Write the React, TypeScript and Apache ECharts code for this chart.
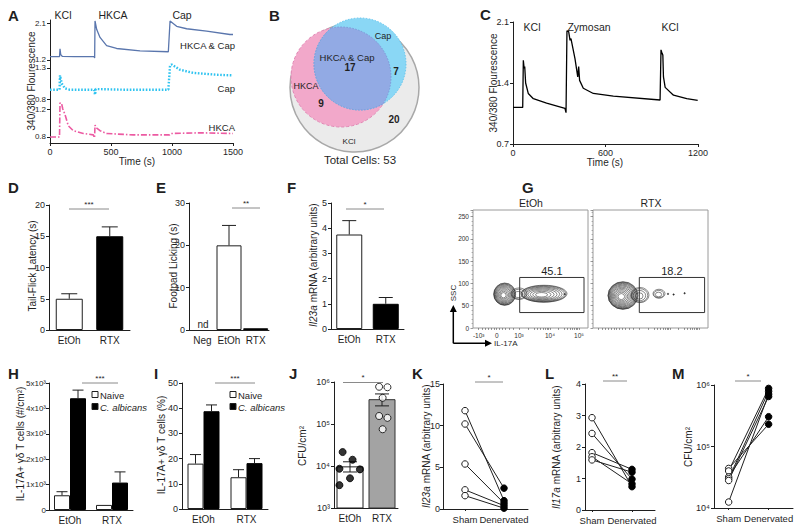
import React, { useEffect, useRef } from 'react';
import * as echarts from 'echarts';

// ---------------- DATA ----------------
// Panel A: calcium traces [time (s), 340/380 ratio]
const aHkcaCap = [[0,1.28],[78,1.28],[82,1.47],[88,1.33],[100,1.29],[200,1.28],[362,1.28],[366,1.25],[369,2.15],[383,1.94],[410,1.75],[464,1.55],[546,1.48],[738,1.42],[970,1.40],[984,2.15],[1038,2.02],[1120,1.96],[1284,1.90],[1475,1.82],[1500,1.82]];
const aCap = [[0,0.95],[78,0.95],[82,1.18],[96,1.05],[123,0.97],[160,0.95],[362,0.95],[369,0.87],[376,0.96],[600,0.95],[970,0.95],[984,1.34],[997,1.355],[1066,1.27],[1175,1.22],[1366,1.19],[1500,1.18]];
const aHkca = [[0,0.80],[78,0.80],[82,1.29],[96,1.27],[105,1.20],[123,1.12],[150,0.96],[191,0.89],[273,0.85],[355,0.83],[365,0.79],[369,0.97],[380,0.93],[410,0.89],[464,0.85],[683,0.83],[980,0.83],[992,0.85],[1230,0.86],[1500,0.85]];
const aTicksTop = [1.2, 2.1];
const aTicksMid = [0.8, 1.3];
const aTicksBot = [0.8, 1.2];
// Panel B: Venn counts
const vennLabels = ['HKCA & Cap', 'Cap', 'HKCA', 'KCl'];
const vennCounts = [17, 7, 9, 20];
const vennTotal = 53;
// Panel C
const cTrace = [[0,1.12],[63,1.12],[67,1.66],[72,1.57],[76,1.59],[82,1.40],[99,1.28],[132,1.22],[218,1.17],[337,1.11],[344,1.06],[350,2.0],[361,1.99],[370,1.89],[376,1.91],[402,1.68],[420,1.47],[426,1.59],[432,1.43],[456,1.34],[521,1.28],[651,1.25],[954,1.205],[960,1.78],[967,1.74],[972,1.72],[976,1.47],[987,1.35],[1041,1.26],[1127,1.22],[1198,1.20]];
const cTicks = [0.7, 1.4, 2.1];
// Panel D
const dCats = ['EtOh', 'RTX'];
const dMeans = [5.0, 15.0];
const dUpper = [5.8, 16.5];
// Panel E
const eCats = ['Neg', 'EtOh', 'RTX'];
const eMeans = [null, 20.0, 0.4];
const eUpper = [null, 24.7, null];
// Panel F
const fCats = ['EtOh', 'RTX'];
const fMeans = [3.75, 1.0];
const fUpper = [4.3, 1.25];
// Panel G: flow contours [x display, SSC, rx, ry, rings]
const gEtOhClusters = [[31.7,76,11,25,11],[46,77,8,13,3],[71,77,23,19,9],[91.7,76,0.7,1.6,1]];
const gRtxClusters = [[30,73,15,31,13],[47,74,9,17,4],[66,77,6,10,3],[75,76.6,0.7,1.6,1],[80.6,75.2,0.7,1.6,1],[91.6,78,0.7,1.6,1]];
const gGateEtOh = [46.7, 34.7, 111, 113.5];
const gGateRtx = [46.3, 34.7, 111.6, 113.5];
const gPercents = ['45.1', '18.2'];
const gXTickLabels = ['-10³', '0', '10³', '10⁴', '10⁵'];
const gXTickVals = [5.7, 23.7, 46, 77, 106];
// Panel H
const hCats = ['EtOh', 'RTX'];
const hNaive = [580, 200];
const hNaiveUpper = [720, null];
const hCalb = [4400, 1080];
const hCalbUpper = [4720, 1500];
// Panel I
const iCats = ['EtOh', 'RTX'];
const iNaive = [18.0, 12.6];
const iNaiveUpper = [21.6, 15.6];
const iCalb = [38.8, 18.2];
const iCalbUpper = [41.3, 20.0];
// Panel J
const jCats = ['EtOh', 'RTX'];
const jMeans = [9800, 390000];
const jLower = [7200, 270000];
const jUpper = [12600, 520000];
const jEtOhPts = [21500, 14100, 8600, 8300, 5100, 3500];
const jEtOhJit = [0.27, 0.58, 0.17, 0.81, 0.5, 0.17];
const jRtxPts = [770000, 750000, 420000, 155000, 140000, 75000];
const jRtxJit = [1.41, 1.67, 1.52, 1.41, 1.67, 1.52];
// Panel K
const kSham = [11.8, 10.2, 5.4, 2.3, 1.6];
const kDen = [1.0, 2.5, 0.7, 0.4, 0.1];
// Panel L
const lSham = [2.93, 2.43, 1.82, 1.69, 1.59];
const lDen = [0.74, 0.98, 1.29, 0.83, 1.20];
// Panel M
const mSham = [44000, 40000, 32000, 30000, 28000, 12500];
const mDen = [230000, 880000, 305000, 790000, 650000, 710000];
const pairCats = ['Sham', 'Denervated'];

// ---------------- STYLE HELPERS ----------------
const FONT = '"Liberation Sans", Arial, Helvetica, sans-serif';
const INK = '#1f1f1f';
const SIG = '#8a8a8a';

const axLine = { show: true, lineStyle: { color: INK, width: 1 } };
const lab = (extra: any = {}) => ({ color: INK, fontSize: 9, fontFamily: FONT, margin: 4, ...extra });
const plain = (v: number) => String(v);

function T(text: string, x: number, y: number, o: any = {}) {
  return {
    type: 'text', x, y, rotation: o.rot || 0, silent: true, z: 50,
    style: {
      text, fill: o.fill || INK, fontSize: o.size || 10, fontFamily: FONT,
      fontWeight: o.bold ? 'bold' : 'normal', fontStyle: o.italic ? 'italic' : 'normal',
      align: o.align || 'center', verticalAlign: 'middle', rich: o.rich,
    },
  };
}
function L(x1: number, y1: number, x2: number, y2: number, stroke = SIG, w = 1) {
  return { type: 'line', silent: true, z: 50, shape: { x1, y1, x2, y2 }, style: { stroke, lineWidth: w } };
}
function sig(x1: number, x2: number, y: number, stars: string) {
  return [L(x1, y, x2, y), T(stars, (x1 + x2) / 2, y - 5, { size: 8 })];
}
const richItalic = { i: { fontStyle: 'italic', fontSize: 10, fontFamily: FONT, fill: INK } };

function catX(gi: number, cats: string[]) {
  return { type: 'category', gridIndex: gi, data: cats, axisLine: axLine, axisTick: { show: false },
    axisLabel: lab({ fontSize: 10, margin: 5, interval: 0 }), splitLine: { show: false } };
}
function valY(gi: number, min: number, max: number, interval: number, extra: any = {}) {
  return { type: 'value', gridIndex: gi, min, max, interval, axisLine: axLine,
    axisTick: { show: true, length: 3, lineStyle: { color: INK } }, axisLabel: lab({ formatter: plain }), splitLine: { show: false }, ...extra };
}
function customY(gi: number, min: number, max: number, vals: number[], fs = 9) {
  return { type: 'value', gridIndex: gi, min, max, axisLine: axLine,
    axisTick: { show: true, length: 3, customValues: vals, lineStyle: { color: INK } },
    axisLabel: lab({ fontSize: fs, customValues: vals, formatter: (v: number) => v.toFixed(1) }), splitLine: { show: false } };
}
function pairX(gi: number, min: number, max: number) {
  return { type: 'value', gridIndex: gi, min, max, axisLine: axLine,
    axisTick: { show: true, length: 2, customValues: [1, 2], lineStyle: { color: INK } },
    axisLabel: lab({ fontSize: 9.5, margin: 5, customValues: [1, 2], formatter: (v: number) => pairCats[Math.round(v) - 1] }),
    splitLine: { show: false } };
}
function logY(gi: number, min: number, max: number) {
  return { type: 'log', logBase: 10, gridIndex: gi, min, max, axisLine: axLine,
    axisTick: { show: true, length: 3, lineStyle: { color: INK } },
    axisLabel: lab({ formatter: (v: number) => '10' + ['⁰','¹','²','³','⁴','⁵','⁶'][Math.round(Math.log10(v))] }),
    splitLine: { show: false }, minorTick: { show: false } };
}

function errRender(off: number, cap: number, both: boolean) {
  return (params: any, api: any) => {
    const i = api.value(0), lo = api.value(1), hi = api.value(2);
    const a = api.coord([i, lo]);
    const b = api.coord([i, hi]);
    const x = a[0] + off;
    const st = { stroke: INK, lineWidth: 1 };
    const ch: any[] = [
      { type: 'line', shape: { x1: x, y1: a[1], x2: x, y2: b[1] }, style: st },
      { type: 'line', shape: { x1: x - cap / 2, y1: b[1], x2: x + cap / 2, y2: b[1] }, style: st },
    ];
    if (both) ch.push({ type: 'line', shape: { x1: x - cap / 2, y1: a[1], x2: x + cap / 2, y2: a[1] }, style: st });
    return { type: 'group', children: ch };
  };
}
function errSeries(xi: number, lows: any[], highs: any[], off: number, cap: number, both = false) {
  const data: any[] = [];
  highs.forEach((h, i) => { if (h != null) data.push([i, lows[i], h]); });
  return { type: 'custom', xAxisIndex: xi, yAxisIndex: xi, renderItem: errRender(off, cap, both), data, z: 5,
    encode: { x: 0, y: [1, 2] } };
}
function barItems(vals: any[], styles: any[]) {
  return vals.map((v, i) => (v == null ? '-' : { value: v, itemStyle: styles[i] }));
}
const WHITE_BAR = { color: '#ffffff', borderColor: INK, borderWidth: 1 };
const BLACK_BAR = { color: '#000000', borderColor: '#000000', borderWidth: 1 };

function ellipsePath(cx: number, cy: number, rx: number, ry: number) {
  return `M${cx - rx} ${cy} A${rx} ${ry} 0 1 0 ${cx + rx} ${cy} A${rx} ${ry} 0 1 0 ${cx - rx} ${cy} Z`;
}
function contourSeries(xi: number, clusters: number[][]) {
  return {
    type: 'custom', xAxisIndex: xi, yAxisIndex: xi, data: clusters, z: 4, clip: true,
    renderItem: (params: any, api: any) => {
      const c = api.coord([api.value(0), api.value(1)]);
      const s = api.size([api.value(2), api.value(3)]);
      const n = api.value(4);
      const children: any[] = [];
      for (let k = 0; k < n; k++) {
        const t = n === 1 ? 0 : k / n;
        const f = 1 - 0.88 * Math.pow(t, 1.5);
        const shift = -t * s[0] * 0.12;
        children.push({ type: 'path', shape: { pathData: ellipsePath(c[0] + shift, c[1] + t * 1.2, s[0] * f, s[1] * f) },
          style: { fill: n === 1 ? '#333' : 'none', stroke: '#262626', lineWidth: 0.55 } });
      }
      return { type: 'group', children };
    },
  };
}
function gateSeries(xi: number, gate: number[], label: string) {
  return {
    type: 'custom', xAxisIndex: xi, yAxisIndex: xi, data: [gate], z: 6,
    renderItem: (params: any, api: any) => {
      const p1 = api.coord([api.value(0), api.value(3)]);
      const p2 = api.coord([api.value(2), api.value(1)]);
      return { type: 'group', children: [
        { type: 'rect', shape: { x: p1[0], y: p1[1], width: p2[0] - p1[0], height: p2[1] - p1[1] },
          style: { fill: 'none', stroke: '#333', lineWidth: 1 } },
        { type: 'text', x: (p1[0] + p2[0]) / 2, y: p1[1] - 6,
          style: { text: label, fontSize: 11, fontFamily: FONT, fill: INK, align: 'center', verticalAlign: 'middle' } },
      ] };
    },
  };
}
function flowX(gi: number, showLabels: boolean) {
  const minor: number[] = [];
  [2, 3, 4, 5, 6, 7, 8, 9].forEach(k => { minor.push(46 + 31 * Math.log10(k)); minor.push(77 + 29 * Math.log10(k)); });
  [9, 12, 15, 18, 21, 26, 29, 32, 36, 40].forEach(v => minor.push(v));
  return { type: 'value', gridIndex: gi, min: 0, max: 115, axisLine: { show: false },
    axisTick: { show: true, length: 2, customValues: gXTickVals.concat(minor), lineStyle: { color: '#555', width: 0.6 } },
    axisLabel: { show: showLabels, customValues: gXTickVals, fontSize: 6.5, fontFamily: FONT, color: '#333', margin: 4,
      formatter: (v: number) => { let bi = 0; gXTickVals.forEach((t, i) => { if (Math.abs(t - v) < Math.abs(gXTickVals[bi] - v)) bi = i; }); return gXTickLabels[bi]; } },
    splitLine: { show: false } };
}
function flowY(gi: number, showLabels: boolean) {
  return { type: 'value', gridIndex: gi, min: 0, max: 265, interval: 50, axisLine: { show: false },
    axisTick: { show: true, length: 2.5, lineStyle: { color: '#555', width: 0.6 } },
    minorTick: { show: true, splitNumber: 5, length: 1.5, lineStyle: { color: '#777', width: 0.5 } },
    axisLabel: { show: showLabels, fontSize: 6.5, fontFamily: FONT, color: '#333', margin: 4 }, splitLine: { show: false } };
}
function pairSeries(xi: number, sham: number[], den: number[]) {
  return sham.map((s, i) => ({
    type: 'line', xAxisIndex: xi, yAxisIndex: xi, symbolSize: 6.5, z: 5, clip: false,
    lineStyle: { color: INK, width: 1 },
    data: [
      { value: [1, s], symbol: 'circle', itemStyle: { color: '#ffffff', borderColor: INK, borderWidth: 1 } },
      { value: [2, den[i]], symbol: 'circle', itemStyle: { color: '#000000', borderColor: '#000000', borderWidth: 1 } },
    ],
  }));
}

function lensPath(c1: any, c2: any) {
  const dx = c2.cx - c1.cx, dy = c2.cy - c1.cy;
  const d = Math.hypot(dx, dy);
  const a = (c1.r * c1.r - c2.r * c2.r + d * d) / (2 * d);
  const h = Math.sqrt(c1.r * c1.r - a * a);
  const ux = dx / d, uy = dy / d, px = -uy, py = ux;
  const mx = c1.cx + a * ux, my = c1.cy + a * uy;
  const bx = mx - h * px, by = my - h * py, ex = mx + h * px, ey = my + h * py;
  const l1 = a < 0 ? 1 : 0, l2 = d - a < 0 ? 1 : 0;
  return `M${bx} ${by} A${c1.r} ${c1.r} 0 ${l1} 1 ${ex} ${ey} A${c2.r} ${c2.r} 0 ${l2} 1 ${bx} ${by} Z`;
}

const VENN_ALL = { cx: 354.5, cy: 87.5, r: 64.5 };
const VENN_HKCA = { cx: 341, cy: 77, r: 50 };
const VENN_CAP = { cx: 360, cy: 64, r: 46 };
let lensRegistered = false;

function buildOption() {
  const grid = [
    { left: 50, top: 20, width: 183, height: 45 },   // 0 A1
    { left: 50, top: 65, width: 183, height: 35 },   // 1 A2
    { left: 50, top: 100, width: 183, height: 43 },  // 2 A3
    { left: 513, top: 22, width: 185, height: 122 }, // 3 C
    { left: 49, top: 205, width: 81, height: 125 },  // 4 D
    { left: 189, top: 203, width: 80, height: 127 }, // 5 E
    { left: 331, top: 203, width: 73, height: 126 }, // 6 F
    { left: 473, top: 210, width: 115, height: 118, show: true, borderColor: '#9a9a9a', borderWidth: 1 }, // 7 G1
    { left: 593, top: 210, width: 115, height: 118, show: true, borderColor: '#9a9a9a', borderWidth: 1 }, // 8 G2
    { left: 49, top: 383, width: 84, height: 127 },  // 9 H
    { left: 182, top: 383, width: 86, height: 126 }, // 10 I
    { left: 334, top: 382, width: 64, height: 126 }, // 11 J
    { left: 443, top: 384, width: 85, height: 125 }, // 12 K
    { left: 585, top: 384, width: 70, height: 126 }, // 13 L
    { left: 714, top: 385, width: 79, height: 123 }, // 14 M
  ];
  const hiddenX = (gi: number, min: number, max: number) => ({ type: 'value', gridIndex: gi, min, max, show: false });
  const xAxis: any[] = [
    hiddenX(0, 0, 1500),
    hiddenX(1, 0, 1500),
    { type: 'value', gridIndex: 2, min: 0, max: 1500, interval: 500, axisLine: axLine,
      axisTick: { show: true, length: 3, lineStyle: { color: INK } }, axisLabel: lab({ formatter: plain }), splitLine: { show: false } },
    { type: 'value', gridIndex: 3, min: 0, max: 1200, interval: 600, axisLine: axLine,
      axisTick: { show: true, length: 3, lineStyle: { color: INK } }, axisLabel: lab({ formatter: plain }), splitLine: { show: false } },
    catX(4, dCats),
    catX(5, eCats),
    catX(6, fCats),
    flowX(7, true),
    flowX(8, false),
    catX(9, hCats),
    catX(10, iCats),
    catX(11, jCats),
    pairX(12, 0.436, 2.615),
    pairX(13, 0.825, 2.575),
    pairX(14, 0.633, 2.61),
    hiddenX(11, 0, 2), // 15: jitter axis for J
  ];
  const yAxis: any[] = [
    customY(0, 1.078, 2.173, aTicksTop, 8),
    customY(1, 0.784, 1.347, aTicksMid, 8),
    customY(2, 0.714, 1.329, aTicksBot, 8),
    customY(3, 0.7, 2.1, cTicks),
    valY(4, 0, 20, 5),
    valY(5, 0, 30, 10),
    valY(6, 0, 5, 1),
    flowY(7, true),
    flowY(8, false),
    valY(9, 0, 5000, 1000, { axisLabel: lab({ fontSize: 8, margin: 3, formatter: (v: number) => (v === 0 ? '0' : `${v / 1000}x10³`) }) }),
    valY(10, 0, 50, 10),
    logY(11, 1000, 1000000),
    valY(12, 0, 15, 5, { axisLabel: lab({ margin: 3, formatter: plain }) }),
    valY(13, 0, 4, 1),
    logY(14, 10000, 1000000),
  ];

  const series: any[] = [
    // A
    { type: 'line', xAxisIndex: 0, yAxisIndex: 0, data: aHkcaCap, showSymbol: false, clip: false, lineStyle: { color: '#5a76ad', width: 1.3 } },
    { type: 'line', xAxisIndex: 1, yAxisIndex: 1, data: aCap, showSymbol: false, clip: false, lineStyle: { color: '#2fc3f0', width: 2.4, type: [1.6, 1.6] } },
    { type: 'line', xAxisIndex: 2, yAxisIndex: 2, data: aHkca, showSymbol: false, clip: false, lineStyle: { color: '#ec5aa2', width: 1.6, type: [6, 2, 1.5, 2] } },
    // C
    { type: 'line', xAxisIndex: 3, yAxisIndex: 3, data: cTrace, showSymbol: false, lineStyle: { color: '#000', width: 1.3 } },
    // D
    { type: 'bar', xAxisIndex: 4, yAxisIndex: 4, barWidth: 27, data: barItems(dMeans, [WHITE_BAR, BLACK_BAR]) },
    errSeries(4, dMeans, dUpper, 0, 16),
    // E
    { type: 'bar', xAxisIndex: 5, yAxisIndex: 5, barWidth: 25, data: barItems(eMeans, [WHITE_BAR, WHITE_BAR, BLACK_BAR]) },
    errSeries(5, eMeans, eUpper, 0, 14),
    // F
    { type: 'bar', xAxisIndex: 6, yAxisIndex: 6, barWidth: 26, data: barItems(fMeans, [WHITE_BAR, BLACK_BAR]) },
    errSeries(6, fMeans, fUpper, 0, 14),
    // G
    contourSeries(7, gEtOhClusters),
    gateSeries(7, gGateEtOh, gPercents[0]),
    contourSeries(8, gRtxClusters),
    gateSeries(8, gGateRtx, gPercents[1]),
    // H
    { type: 'bar', name: 'Naive', xAxisIndex: 9, yAxisIndex: 9, barWidth: 16, barGap: '0%', data: hNaive, itemStyle: WHITE_BAR },
    { type: 'bar', name: 'C. albicans', xAxisIndex: 9, yAxisIndex: 9, barWidth: 16, barGap: '0%', data: hCalb, itemStyle: BLACK_BAR },
    errSeries(9, hNaive, hNaiveUpper, -8, 11),
    errSeries(9, hCalb, hCalbUpper, 8, 11),
    // I
    { type: 'bar', name: 'Naive', xAxisIndex: 10, yAxisIndex: 10, barWidth: 16, barGap: '0%', data: iNaive, itemStyle: WHITE_BAR },
    { type: 'bar', name: 'C. albicans', xAxisIndex: 10, yAxisIndex: 10, barWidth: 16, barGap: '0%', data: iCalb, itemStyle: BLACK_BAR },
    errSeries(10, iNaive, iNaiveUpper, -8, 11),
    errSeries(10, iCalb, iCalbUpper, 8, 11),
    // J
    { type: 'bar', xAxisIndex: 11, yAxisIndex: 11, barWidth: 27, data: barItems(jMeans, [WHITE_BAR, { color: '#a3a3a3', borderColor: '#333', borderWidth: 1 }]) },
    errSeries(11, jLower, jUpper, 0, 14, true),
    { type: 'scatter', xAxisIndex: 15, yAxisIndex: 11, symbolSize: 7, z: 6,
      itemStyle: { color: '#000', borderColor: '#000', borderWidth: 1 },
      data: jEtOhPts.map((v, i) => [jEtOhJit[i], v]) },
    { type: 'scatter', xAxisIndex: 15, yAxisIndex: 11, symbolSize: 7, z: 6,
      itemStyle: { color: '#fff', borderColor: '#000', borderWidth: 1 },
      data: jRtxPts.map((v, i) => [jRtxJit[i], v]) },
    // K, L, M
    ...pairSeries(12, kSham, kDen),
    ...pairSeries(13, lSham, lDen),
    ...pairSeries(14, mSham, mDen),
  ];

  const legendBlock = (x: number) => [
    { type: 'rect', shape: { x, y: 391.5, width: 6, height: 6 }, style: { fill: '#fff', stroke: INK, lineWidth: 1 }, z: 50 },
    T('Naive', x + 8, 395, { align: 'left', size: 9.5 }),
    { type: 'rect', shape: { x, y: 403.5, width: 6, height: 6 }, style: { fill: '#000', stroke: INK, lineWidth: 1 }, z: 50 },
    T('C. albicans', x + 8, 407, { align: 'left', size: 9.5, italic: true }),
  ];

  const graphic: any[] = [
    // Panel letters
    T('A', 8, 15, { size: 15, bold: true, align: 'left' }),
    T('B', 269, 15, { size: 15, bold: true, align: 'left' }),
    T('C', 480, 14, { size: 15, bold: true, align: 'left' }),
    T('D', 8, 187, { size: 15, bold: true, align: 'left' }),
    T('E', 156, 187, { size: 15, bold: true, align: 'left' }),
    T('F', 287, 187, { size: 15, bold: true, align: 'left' }),
    T('G', 522, 187, { size: 15, bold: true, align: 'left' }),
    T('H', 8, 373, { size: 15, bold: true, align: 'left' }),
    T('I', 154, 373, { size: 15, bold: true, align: 'left' }),
    T('J', 289, 373, { size: 15, bold: true, align: 'left' }),
    T('K', 412, 373, { size: 15, bold: true, align: 'left' }),
    T('L', 545, 373, { size: 15, bold: true, align: 'left' }),
    T('M', 672, 373, { size: 15, bold: true, align: 'left' }),
    // A annotations
    T('KCl', 63, 15, { size: 10.5 }),
    T('HKCA', 113, 15, { size: 10.5 }),
    T('Cap', 182, 15, { size: 10.5 }),
    T('HKCA & Cap', 235, 45, { size: 9.5, align: 'right' }),
    T('Cap', 235, 88, { size: 9.5, align: 'right' }),
    T('HKCA', 235, 127, { size: 9.5, align: 'right' }),
    T('340/380 Flourescence', 31, 81, { size: 10, rot: Math.PI / 2 }),
    T('Time (s)', 137, 161, { size: 10 }),
    // B Venn
    { type: 'circle', shape: { cx: VENN_ALL.cx, cy: VENN_ALL.cy, r: VENN_ALL.r }, style: { fill: '#ebebeb', stroke: '#a8a8a8', lineWidth: 1.5 }, z: 10 },
    { type: 'circle', shape: { cx: VENN_HKCA.cx, cy: VENN_HKCA.cy, r: VENN_HKCA.r }, style: { fill: '#f2a8ca', stroke: '#e286b4', lineWidth: 1, lineDash: [3, 2] }, z: 11 },
    { type: 'circle', shape: { cx: VENN_CAP.cx, cy: VENN_CAP.cy, r: VENN_CAP.r }, style: { fill: '#8ad7f5', stroke: '#5fc4ee', lineWidth: 1, lineDash: [1.5, 1.5] }, z: 12 },
    { type: 'vennLens', x: 0, y: 0, style: { fill: '#92aae4', stroke: '#7e96d8', lineWidth: 1, lineDash: [1.5, 1.5] }, z: 13 },
    T(vennLabels[1], 383, 36, { size: 9 }),
    T(vennLabels[0], 347, 57, { size: 9.5 }),
    T(String(vennCounts[0]), 350, 67.5, { size: 10, bold: true }),
    T(String(vennCounts[1]), 396, 71, { size: 10, bold: true }),
    T(vennLabels[2], 306, 86, { size: 9 }),
    T(String(vennCounts[2]), 321, 103, { size: 10, bold: true }),
    T(String(vennCounts[3]), 394, 119, { size: 10, bold: true }),
    T(vennLabels[3], 349, 141, { size: 8 }),
    T('Total Cells: ' + vennTotal, 360, 160, { size: 11.5 }),
    // C annotations
    T('KCl', 532, 27, { size: 10.5 }),
    T('Zymosan', 589, 27, { size: 10.5 }),
    T('KCl', 670, 27, { size: 10.5 }),
    T('340/380 Flourescence', 493, 83, { size: 10, rot: Math.PI / 2 }),
    T('Time (s)', 605, 162, { size: 10 }),
    // D/E/F
    T('Tail-Flick Latency (s)', 32, 266, { size: 10, rot: Math.PI / 2 }),
    ...sig(69, 109, 209, '***'),
    T('Footpad Licking (s)', 173, 266, { size: 10, rot: Math.PI / 2 }),
    T('nd', 203, 324, { size: 10 }),
    ...sig(232, 260, 208, '**'),
    T('{i|Il23a} mRNA (arbitrary units)', 313, 265, { size: 10, rot: Math.PI / 2, rich: richItalic }),
    ...sig(346, 384, 209, '*'),
    // G
    T('EtOh', 531, 203, { size: 10.5 }),
    T('RTX', 651, 203, { size: 10.5 }),
    L(453.3, 343.3, 453.3, 311, '#000', 1.5),
    { type: 'polygon', shape: { points: [[449.8, 312], [456.8, 312], [453.3, 305]] }, style: { fill: '#000' }, z: 50 },
    L(453.3, 343.3, 486, 343.3, '#000', 1.5),
    { type: 'polygon', shape: { points: [[485, 339.8], [485, 346.8], [492, 343.3]] }, style: { fill: '#000' }, z: 50 },
    T('SSC', 453, 293, { size: 8, rot: Math.PI / 2 }),
    T('IL-17A', 494, 343.5, { size: 8, align: 'left' }),
    // H / I
    T('IL-17A+ γδ T cells (#/cm²)', 20, 444, { size: 10, rot: Math.PI / 2 }),
    ...sig(82, 118, 383, '***'),
    ...legendBlock(92),
    T('IL-17A+ γδ T cells (%)', 161, 445, { size: 10, rot: Math.PI / 2 }),
    ...sig(215, 255, 383, '***'),
    ...legendBlock(230),
    // J
    T('CFU/cm²', 302, 446, { size: 10, rot: Math.PI / 2 }),
    ...sig(343, 383, 382.5, '*'),
    // K
    T('{i|Il23a} mRNA (arbitrary units)', 426, 446, { size: 10, rot: Math.PI / 2, rich: richItalic }),
    ...sig(475, 503, 382, '*'),
    // L
    T('{i|Il17a} mRNA (arbitrary units)', 556, 447, { size: 10, rot: Math.PI / 2, rich: richItalic }),
    ...sig(603, 627, 381, '**'),
    // M
    T('CFU/cm²', 688, 447, { size: 10, rot: Math.PI / 2 }),
    ...sig(735, 761, 381, '*'),
  ];

  return { animation: false, backgroundColor: '#ffffff', textStyle: { fontFamily: FONT }, grid, xAxis, yAxis, series, graphic };
}

export default function App() {
  const ref = useRef<HTMLDivElement | null>(null);
  useEffect(() => {
    if (!ref.current) return;
    if (!lensRegistered) {
      echarts.graphic.registerShape('vennLens', echarts.graphic.extendPath(lensPath(VENN_HKCA, VENN_CAP), {}));
      lensRegistered = true;
    }
    const chart = echarts.init(ref.current, null, { renderer: 'svg' });
    chart.setOption(buildOption() as any);
    return () => chart.dispose();
  }, []);
  return <div ref={ref} style={{ position: 'fixed', left: 0, top: 0, width: 800, height: 529, background: '#fff' }} />;
}
